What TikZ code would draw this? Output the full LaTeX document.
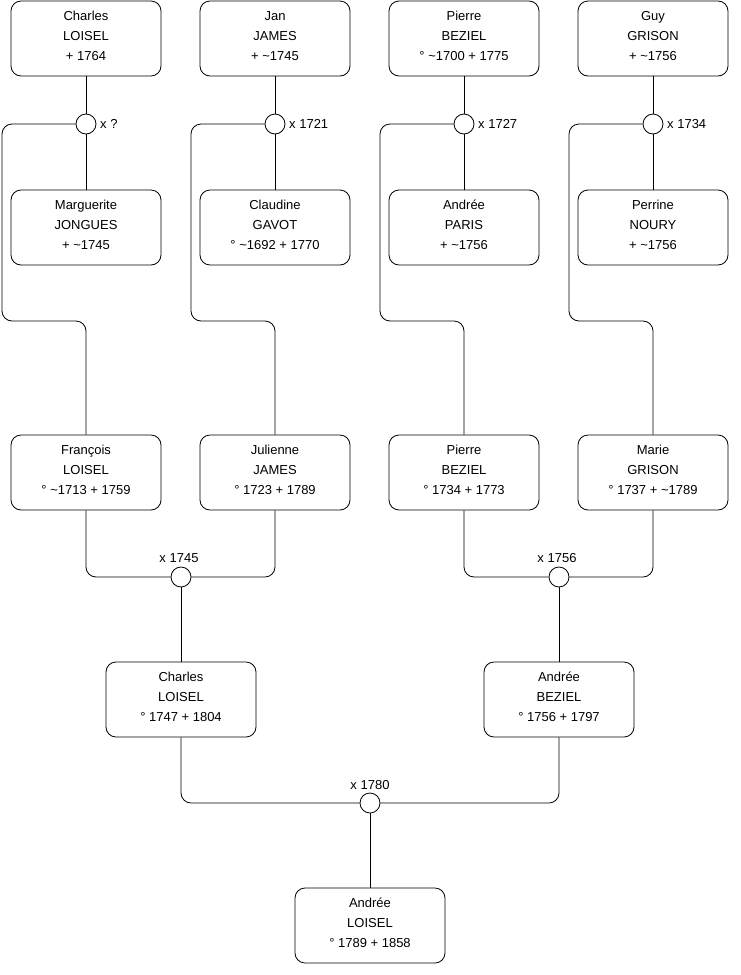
\documentclass[tikz,border=0pt]{standalone}
\usepackage{fontspec}
\setmainfont{Liberation Sans}
\begin{document}
\begin{tikzpicture}[x=1pt,y=-1pt,
  person/.style={draw=black, line width=0.8pt, rounded corners=10pt, minimum width=150pt, minimum height=75pt, align=center, inner sep=0pt, text depth=5pt, font=\fontsize{13}{20}\selectfont},
  marr/.style={draw=black, line width=0.8pt, circle, minimum size=20pt, inner sep=0pt, fill=white},
  lbl/.style={inner sep=0pt, font=\fontsize{13}{15}\selectfont},
  link/.style={draw=black, line width=0.8pt, rounded corners=10pt}]
\useasboundingbox (0,0) rectangle (740,975);
% row 1
\node[person] (p1) at (86,38.5) {Charles\\LOISEL\\+ 1764};
\node[person] (p2) at (275,38.5) {Jan\\JAMES\\+ \textasciitilde1745};
\node[person] (p3) at (464,38.5) {Pierre\\BEZIEL\\° \textasciitilde1700 + 1775};
\node[person] (p4) at (653,38.5) {Guy\\GRISON\\+ \textasciitilde1756};
% row 2
\node[person] (w1) at (86,227.5) {Marguerite\\JONGUES\\+ \textasciitilde1745};
\node[person] (w2) at (275,227.5) {Claudine\\GAVOT\\° \textasciitilde1692 + 1770};
\node[person] (w3) at (464,227.5) {Andrée\\PARIS\\+ \textasciitilde1756};
\node[person] (w4) at (653,227.5) {Perrine\\NOURY\\+ \textasciitilde1756};
% row 3
\node[person] (c1) at (86,472.5) {François\\LOISEL\\° \textasciitilde1713 + 1759};
\node[person] (c2) at (275,472.5) {Julienne\\JAMES\\° 1723 + 1789};
\node[person] (c3) at (464,472.5) {Pierre\\BEZIEL\\° 1734 + 1773};
\node[person] (c4) at (653,472.5) {Marie\\GRISON\\° 1737 + \textasciitilde1789};
% row 4
\node[person] (g1) at (181,699.5) {Charles\\LOISEL\\° 1747 + 1804};
\node[person] (g2) at (559,699.5) {Andrée\\BEZIEL\\° 1756 + 1797};
% row 5
\node[person] (f) at (370,925.5) {Andrée\\LOISEL\\° 1789 + 1858};
% marriages
\node[marr] (m1) at (86,124) {};
\node[marr] (m2) at (275,124) {};
\node[marr] (m3) at (464,124) {};
\node[marr] (m4) at (653,124) {};
\node[marr] (m5) at (181,577) {};
\node[marr] (m6) at (559,577) {};
\node[marr] (m7) at (370,803) {};
% labels
\node[lbl, anchor=west] (l1) at (100,124) {x ?};
\node[lbl, anchor=west] (l2) at (289,124) {x 1721};
\node[lbl, anchor=west] (l3) at (478,124) {x 1727};
\node[lbl, anchor=west] (l4) at (667,124) {x 1734};
\node[lbl] (l5) at (179,558) {x 1745};
\node[lbl] (l6) at (557,558) {x 1756};
\node[lbl] (l7) at (370,785) {x 1780};
% corner coordinates
\coordinate (k1) at (2,321);
\coordinate (k2) at (191,321);
\coordinate (k3) at (380,321);
\coordinate (k4) at (569,321);
% connectors
\foreach \i in {1,2,3,4}{
  \draw[link] (p\i.south) -- (m\i.north);
  \draw[link] (m\i.south) -- (w\i.north);
  \draw[link] (m\i.west) -| (k\i) -| (c\i.north);
}
\draw[link] (c1.south) |- (m5.west);
\draw[link] (c2.south) |- (m5.east);
\draw[link] (m5.south) -- (g1.north);
\draw[link] (c3.south) |- (m6.west);
\draw[link] (c4.south) |- (m6.east);
\draw[link] (m6.south) -- (g2.north);
\draw[link] (g1.south) |- (m7.west);
\draw[link] (g2.south) |- (m7.east);
\draw[link] (m7.south) -- (f.north);
\end{tikzpicture}
\end{document}
